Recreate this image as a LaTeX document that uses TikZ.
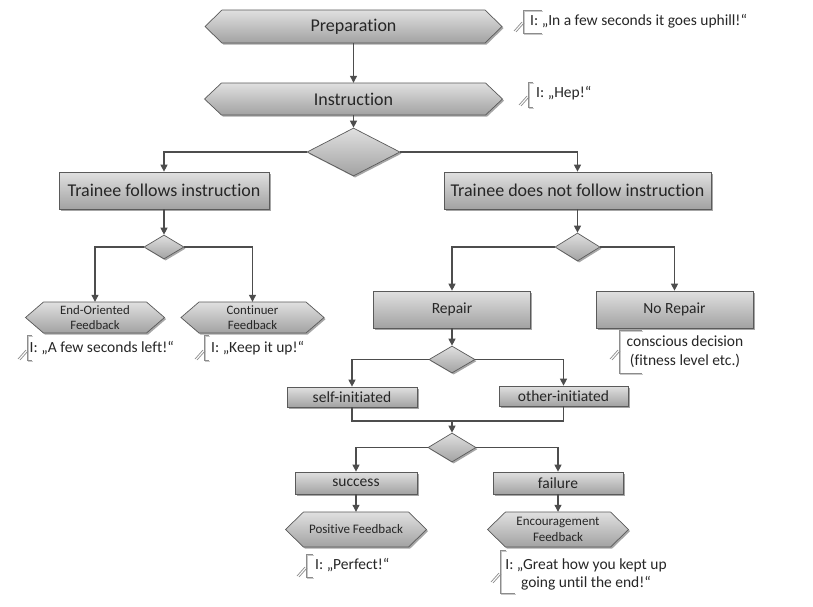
\documentclass[tikz,border=0pt]{standalone}
\usepackage{fontspec}
\setmainfont{Carlito}[Ligatures={TeX,NoCommon}]
\usetikzlibrary{arrows.meta,shapes.geometric,shadows}
\definecolor{edgec}{HTML}{5A5A5A}
\definecolor{wirec}{HTML}{4D4D4D}
\definecolor{filltop}{HTML}{E0E0E0}
\definecolor{fillbot}{HTML}{A2A2A2}
\definecolor{txt}{HTML}{262626}
\definecolor{brkc}{HTML}{8C8C8C}
\definecolor{brklight}{HTML}{C8C8C8}
\tikzset{
 shapefill/.style={draw=edgec, line width=0.7pt, top color=filltop, bottom color=fillbot,
   drop shadow={shadow xshift=1.6pt, shadow yshift=-1.6pt, opacity=0.35, fill=black}},
 box/.style={shapefill, rectangle, inner sep=0pt, text=txt, font=\fontsize{15.5}{18}\selectfont},
 bigbox/.style={box, font=\fontsize{18}{21}\selectfont},
 hexlabel/.style={rectangle, inner sep=0pt, text=txt, align=center},
 dec/.style={shapefill, diamond, inner sep=0pt},
 wire/.style={draw=wirec, line width=1.1pt, -{Triangle[length=7pt,width=7pt]}},
 plainwire/.style={draw=wirec, line width=1.1pt},
 annot/.style={draw=brkc, line width=0.7pt},
 annotsh/.style={draw=brklight, line width=0.7pt},
 annottext/.style={text=txt, font=\fontsize{15.5}{18}\selectfont, inner sep=0pt, align=center},
}
\newcommand{\hexnode}[8]{%
 \path[shapefill] ({#2-#4},{#3}) -- ({#2-#4+#6},{#3-#5}) -- ({#2+#4-#6},{#3-#5}) -- ({#2+#4},{#3}) -- ({#2+#4-#6},{#3+#5}) -- ({#2-#4+#6},{#3+#5}) -- cycle;
 \node[hexlabel, font=#7, minimum width={2*#4*1pt}, minimum height={2*#5*1pt}] (#1) at (#2,#3) {#8};
}
\newcommand{\annotbracket}[5]{%
 \draw[annotsh] ({#4+1.2},{#2+1.2}) -- ({#1+1.2},{#2+1.2}) -- ({#1+1.2},{#3+1.2}) -- ({#5+1.2},{#3+1.2});
 \draw[annot] (#4,#2) -- (#1,#2) -- (#1,#3) -- (#5,#3);
}
\newcommand{\annottail}[2]{%
 \draw[annot] ({#1-9},{#2+5}) -- ({#1-1},{#2-4});
 \draw[annot] ({#1-7},{#2+6}) -- ({#1+1},{#2-3});
}
\begin{document}
\begin{tikzpicture}[x=1pt,y=-1pt]
\fill[white] (0,0) rectangle (813,606);
\useasboundingbox (0,0) rectangle (813,606);

% hexagons
\hexnode{prep}{353.5}{26.5}{148.5}{16.5}{17}{\fontsize{18}{21}\selectfont}{\raisebox{-1.5pt}{Preparation}}
\hexnode{instr}{353.5}{99}{149}{16}{17}{\fontsize{18}{21}\selectfont}{\raisebox{-1pt}{Instruction}}
\hexnode{endfb}{95}{317.5}{69.5}{15.5}{18}{\fontsize{12.8}{15}\selectfont}{End-Oriented\\Feedback}
\hexnode{contfb}{252.5}{317.5}{71.5}{15.5}{18}{\fontsize{12.8}{15}\selectfont}{Continuer\\Feedback}
\hexnode{posfb}{356}{529.5}{70.5}{17.5}{18}{\fontsize{13}{16}\selectfont}{Positive Feedback}
\hexnode{encfb}{558}{529.5}{70.5}{17.5}{18}{\fontsize{13}{16}\selectfont}{Encouragement\\Feedback}

% decisions
\node[dec, minimum width=93pt, minimum height=48pt] (d1) at (353.5,152) {};
\node[dec, minimum width=40pt, minimum height=24pt] (d2) at (164,247) {};
\node[dec, minimum width=45pt, minimum height=28pt] (d3) at (577.5,247) {};
\node[dec, minimum width=46pt, minimum height=27pt] (d4) at (452,359.5) {};
\node[dec, minimum width=48pt, minimum height=29pt] (d5) at (452,447.5) {};

% boxes
\node[bigbox, minimum width=210pt, minimum height=37pt] (follow) at (164,190.5) {Trainee follows instruction};
\node[bigbox, minimum width=267pt, minimum height=37pt] (notfollow) at (577.5,190.5) {Trainee does not follow instruction};
\node[box, minimum width=157pt, minimum height=37pt] (repair) at (452,309.5) {Repair};
\node[box, minimum width=157pt, minimum height=37pt] (norepair) at (674.5,309.5) {No Repair};
\node[box, minimum width=130pt, minimum height=20pt] (self) at (352,397) {self-initiated};
\node[box, minimum width=129pt, minimum height=20pt] (other) at (563.5,396) {other-initiated};
\node[box, minimum width=122pt, minimum height=22pt] (success) at (356,483) {success};
\node[box, minimum width=130pt, minimum height=22pt] (failure) at (558,483) {failure};

% connectors
\draw[wire] (prep.south) -- (instr.north);
\draw[wire] (instr.south) -- (d1.north);
\draw[wire] (d1.west) -| (follow.north);
\draw[wire] (d1.east) -| (notfollow.north);
\draw[wire] (follow.south) -- (d2.north);
\draw[wire] (notfollow.south) -- (d3.north);
\draw[wire] (d2.west) -| (endfb.north);
\draw[wire] (d2.east) -| (contfb.north);
\draw[wire] (d3.west) -| (repair.north);
\draw[wire] (d3.east) -| (norepair.north);
\draw[wire] (repair.south) -- (d4.north);
\draw[wire] (d4.west) -| (self.north);
\draw[wire] (d4.east) -| (other.north);
\coordinate (merge) at (452,421);
\draw[plainwire] (self.south) |- (other.south |- merge) -- (other.south);
\draw[wire] (merge) -- (d5.north);
\draw[wire] (d5.west) -| (success.north);
\draw[wire] (d5.east) -| (failure.north);
\draw[wire] (success.south) -- (posfb.north);
\draw[wire] (failure.south) -- (encfb.north);

% annotations
\annotbracket{523}{10}{33}{542}{542}
\annottail{523}{26}
\node[annottext, anchor=west] (a1) at (530,21.5) {I: „In a few seconds it goes uphill!“};

\annotbracket{528}{82}{107}{533}{533}
\annottail{528}{100}
\node[annottext, anchor=west] (a2) at (536,93) {I: „Hep!“};

\annotbracket{27}{335}{360}{32}{32}
\annottail{27}{354}
\node[annottext, anchor=west] (a3) at (29.5,348) {I: „A few seconds left!“};

\annotbracket{204}{335}{360}{209}{209}
\annottail{204}{354}
\node[annottext, anchor=west] (a4) at (211,348) {I: „Keep it up!“};

\annotbracket{619}{330}{373}{642}{642}
\annottail{619}{354}
\node[annottext, align=center, font=\fontsize{15.5}{19}\selectfont] (a5) at (685,351.5) {conscious decision\\(fitness level etc.)};

\annotbracket{306}{554}{577}{313}{313}
\annottail{306}{571}
\node[annottext, anchor=west] (a6) at (315,565.5) {I: „Perfect!“};

\annotbracket{500}{550}{593}{506}{515}
\annottail{500}{577}
\node[annottext, align=center, font=\fontsize{15.5}{18}\selectfont] (a7) at (586,574) {I: „Great how you kept up\\going until the end!“};
\end{tikzpicture}
\end{document}
